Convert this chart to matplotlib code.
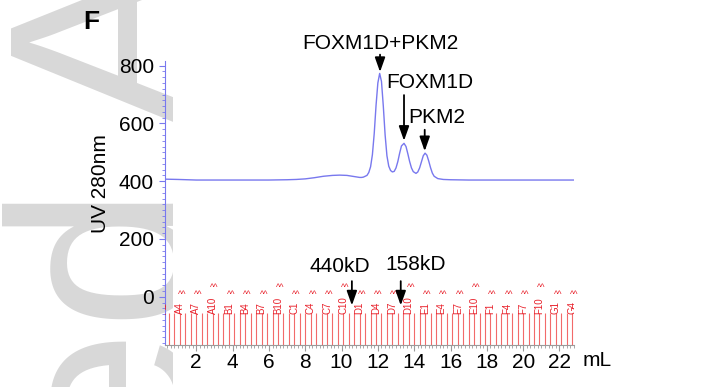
import matplotlib.pyplot as plt
from matplotlib.ticker import MultipleLocator
from matplotlib.transforms import Bbox

plt.rcParams['font.family'] = ['Liberation Sans', 'DejaVu Sans']

# ---- UV 280 nm trace ----
volume_ml = [0.3, 1.0, 2.0, 3.0, 4.0, 5.0, 6.0, 7.0, 7.5, 8.0, 8.5, 9.0, 9.5, 9.9,
             10.3, 10.7, 11.0, 11.1, 11.2, 11.4, 11.5, 11.6, 11.7, 11.8, 11.9, 12.0,
             12.1, 12.2, 12.3, 12.4, 12.5, 12.6, 12.7, 12.8, 12.9, 13.0, 13.1, 13.2,
             13.3, 13.44, 13.55, 13.65, 13.75, 13.85, 13.95, 14.1, 14.2, 14.3, 14.4,
             14.5, 14.6, 14.7, 14.8, 14.9, 15.0, 15.1, 15.3, 15.6, 16.0, 17.0, 18.0,
             19.0, 20.0, 21.0, 22.0, 22.8]
uv_280 = [407, 406, 404, 404, 404, 404, 404, 405, 406, 408, 412, 417, 420, 421,
          420, 416, 413, 413, 414, 420, 430, 450, 492, 565, 662, 740,
          773, 745, 660, 560, 488, 452, 437, 432, 434, 446, 468, 497,
          522, 531, 520, 495, 468, 446, 433, 427, 432, 446, 467,
          488, 497, 490, 470, 447, 428, 417, 409, 406, 405, 404, 404,
          404, 404, 404, 404, 404]

# ---- fraction collector marks (mL) ----
frac_edges = [0.2, 0.5, 0.8, 1.1, 1.4, 1.7, 2.0, 2.3, 2.6, 2.9, 3.2, 3.5,
              3.8, 4.1, 4.4, 4.7, 5.0, 5.3, 5.6, 5.9, 6.2, 6.5, 6.8, 7.1,
              7.4, 7.7, 8.0, 8.3, 8.6, 8.9, 9.2, 9.5, 9.8, 10.1, 10.4, 10.7,
              11.0, 11.3, 11.6, 11.9, 12.2, 12.5, 12.8, 13.1, 13.4, 13.7, 14.0, 14.3,
              14.6, 14.9, 15.2, 15.5, 15.8, 16.1, 16.4, 16.7, 17.0, 17.3, 17.6, 17.9,
              18.2, 18.5, 18.8, 19.1, 19.4, 19.7, 20.0, 20.3, 20.6, 20.9, 21.2, 21.5,
              21.8, 22.1, 22.4, 22.7]
frac_names = ['A1', 'A4', 'A7', 'A10', 'B1', 'B4', 'B7', 'B10', 'C1', 'C4', 'C7', 'C10',
              'D1', 'D4', 'D7', 'D10', 'E1', 'E4', 'E7', 'E10', 'F1', 'F4', 'F7', 'F10',
              'G1', 'G4']

# ---- peak annotations: (text, text x, text y, arrow x, arrow tail y, arrow tip y) ----
peak_notes = [('FOXM1D+PKM2', 12.12, 875, 12.12, 838, 778),
              ('FOXM1D', 14.88, 740, 13.44, 698, 540),
              ('PKM2', 15.26, 622, 14.58, 578, 504)]
marker_notes = [('440kD', 9.89, 105, 10.57, 54, -30),
                ('158kD', 14.08, 110, 13.26, 54, -30)]

blue = '#7878ee'
red = '#e8202a'

fig = plt.figure(figsize=(7.23, 3.87), dpi=100)
ax = fig.add_axes([165 / 723, 42 / 387, 409 / 723, 284 / 387])
ax.set_facecolor('none')

# faint journal watermark behind the panel
wm = fig.text(190 / 723, 1 - 1263 / 387, 'Accepted Article', rotation=90,
              rotation_mode='anchor', ha='left', va='baseline', fontsize=186,
              color='#d8d8d8', zorder=-5)
wm.set_clip_box(Bbox.from_extents(0, 0, 173, 387))

ax.plot(volume_ml, uv_280, color=blue, lw=1.0, zorder=3)

# fraction lines and labels
ax.vlines(frac_edges, -170, -56, color='#f26a6a', lw=0.8, zorder=2)
for name, x in zip(frac_names, frac_edges[::3]):
    ax.text(x, -60, name, rotation=90, ha='center', va='bottom', fontsize=7,
            color=red, clip_on=True)
    ax.annotate('^^', xy=(x, -60), xytext=(1.5, 2.0 + 4.6 * len(name)),
                textcoords='offset points', ha='center', va='bottom',
                fontsize=6.5, color=red, annotation_clip=True)

arrow = dict(arrowstyle='-|>,head_length=0.62,head_width=0.22', color='black',
             lw=1.3, shrinkA=0, shrinkB=0, mutation_scale=14)
for label, tx, ty, axx, y0, y1 in peak_notes + marker_notes:
    ax.text(tx, ty, label, ha='center', va='center', fontsize=15, clip_on=False)
    ax.annotate('', xy=(axx, y1), xytext=(axx, y0), arrowprops=arrow,
                annotation_clip=False)

ax.set_xlim(0.28, 22.8)
ax.set_ylim(-167, 816)

ax.spines['top'].set_visible(False)
ax.spines['right'].set_visible(False)
ax.spines['left'].set_color(blue)
ax.spines['bottom'].set_color('#9a9a9a')

ax.xaxis.set_major_locator(MultipleLocator(2))
ax.xaxis.set_minor_locator(MultipleLocator(0.2))
ax.yaxis.set_major_locator(MultipleLocator(200))
ax.yaxis.set_minor_locator(MultipleLocator(20))
ax.tick_params(axis='x', which='major', length=4, color='#9a9a9a', labelsize=15, pad=1.5)
ax.tick_params(axis='x', which='minor', length=2.2, color='#9a9a9a')
ax.tick_params(axis='y', which='major', length=4, color=blue, labelsize=15, pad=4)
ax.tick_params(axis='y', which='minor', length=2.5, color=blue)

ax.set_ylabel('UV 280nm', fontsize=15)
ax.yaxis.set_label_coords(-0.134, 0.567)
fig.text(583 / 723, 1 - 360 / 387, 'mL', fontsize=15, ha='left', va='center')
fig.text(83 / 723, 1 - 22 / 387, 'F', fontsize=19, fontweight='bold',
         ha='left', va='center')

fig.savefig('out.png', dpi=100)
